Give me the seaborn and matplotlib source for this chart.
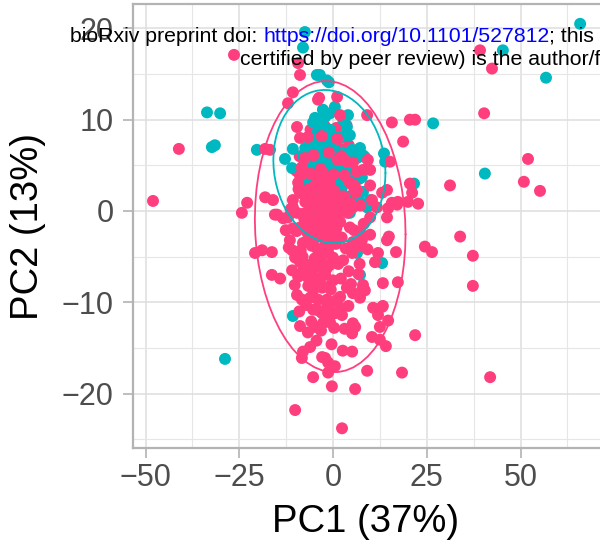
import numpy as np
import pandas as pd
import matplotlib
matplotlib.use("Agg")
import matplotlib.pyplot as plt
import seaborn as sns
from matplotlib.ticker import MultipleLocator, FixedLocator

# ---------------- data ----------------
# group 1 points that are mostly hidden below group 2 (drawn first)
pink_under_x = [-6.2, -3.9, -1.4, 1.6, 4.2, -7.1, -4.4, -1.9, 0.7, 3.3, 6.1, -5.6, -2.4, 0.5,
                2.4, 6.9, -7.4, -4.1, -0.9, 2.1, 4.9, -6.0, -2.2, 0.9, 3.6, -4.8, -1.5, 0.9,
                -3.0, 1.9, -8.9, 5.0, -5.9, -0.2, 2.8, -3.4,
                -4.5, -1.2, -6.6, -4.0, -2.1, -6.9, -1.7, -8.2, -3.9, -0.6, -5.1, 0.1, -9.8]
pink_under_y = [7.1, 6.8, 7.3, 6.9, 7.2, 5.2, 5.5, 5.0, 4.8, 5.9, 6.2, 3.4, 3.6, 3.0,
                3.3, 3.5, 1.0, 1.8, 1.9, 0.9, 1.7, 8.9, 9.3, 9.1, 9.4, 0.0, -0.9, -1.9,
                5.4, 2.0, 6.0, 4.1, 2.2, 6.1, 8.1, 7.9,
                2.9, 4.3, 3.9, 4.9, 6.6, 6.1, 2.7, 1.9, 8.5, 8.2, 8.0, 5.7, 4.4]

pink_x = [-48.0, -41.1, -26.4, -9.3, -8.8, -10.7, -12.0, -9.6, -8.8, -18.1, -16.8, -3.7, 1.1, 1.9, 9.1,
          15.7, 20.5, 21.9, 18.7, 15.2, 39.2, 42.4, 40.3, 52.0, 50.9, 55.2, 31.2, 20.5, 21.1, 22.7,
          17.3, 14.4, 14.7, 17.1, 33.9, 24.5, 26.4, 37.3, 37.3, 14.9, 14.4, 16.8, 13.3, 17.3, 13.3,
          14.7, 14.1, 21.9, 18.4, 41.9, 9.1, 5.9, 2.4, -10.1, -0.3, -5.3, -1.3, -8.3, -8.0, -6.1,
          -2.1, 0.5, -2.9, -1.3, 5.1, 5.1, 5.3, 10.4, 12.5, 10.7, 13.1, 12.0, 12.5, 8.0, 8.5,
          12.0, 11.2, 9.9, 9.9, 4.5, 7.2, 7.7, 5.3, -1.6, 1.9, 4.5, -0.8, -3.5, 0.0, -2.1,
          -3.5, 0.0, 2.7, 5.1, -2.7, 0.0, -3.5, 3.7, 5.3, 1.9, 7.2, 7.7, -1.6, 1.1, -2.1,
          0.5, 2.4, -0.8, -2.7, -22.9, -24.3, -20.8, -18.9, -16.3, -16.3, -14.1, -10.7, -11.5, -10.9, -10.1,
          -8.0, -6.1, -4.3, -1.9, -1.3, -8.8, -6.9, -4.8, -2.7, -0.8, -10.9, -9.3, -6.9, -4.8, -2.1,
          -5.3, -2.9, -1.3, -9.6, -8.3, -6.1, -4.0, -1.6, -5.3, -2.9, -1.3, -8.8, -6.7, -4.8, -1.3,
          -10.7, -9.6, -12.0, -15.5, -13.3, -8.8, -6.9, -5.3, -3.5, -18.1, -16.0, -14.9, -4.0, -6.7, -7.5,
          -8.3, -8.8, -10.7, -8.8, -6.9, -5.3, -2.9, -9.3, -7.5, -4.3, -2.7, -1.3, -5.3, -3.5, -1.6,
          9.3, 9.9, 8.0, 1.3, 3.7, 5.3, -3.5, -1.6, -0.8, 4.5, 5.3, 9.9, 6.4, 14.4, 13.1,
          20.0, 15.7, 1.1, 3.2, 5.3, 10.4, 11.7, 5.9,
          -9.2, -6.3, -3.1, 0.4, 2.8, 6.1, -11.3, -7.9, -4.6, -1.8, 1.2, 3.9, 7.3,
          -9.7, -7.1, -3.8, -0.7, 2.3, 5.6, 8.2, -8.6, -5.7, -2.6, 0.8, 3.4, 6.5,
          -7.8, -4.9, -1.7, 1.4, 4.2, 7.1, -10.2, -6.6, -3.7, -0.6, 2.1, 4.8,
          -7.2, -3.9, -0.9, 2.0, 4.1, -5.8, -3.2, 0.3, 3.1, -6.1, -3.3, 0.2, 3.1, 6.3,
          -5.2, -1.1, 2.2, -3.0, 1.1, -8.1, -11.8, -12.6, -9.0, -4.4, -0.4, 2.6, 6.8, 9.2,
          -2.2, -5.9, -1.0, 1.9, -4.1,
          -5.5, -3.2, -0.9, -6.8, -2.9, -3.6, 0.3, -2.0, -7.7, -5.0, 1.3, -0.3, -2.6, -4.7, -6.4,
          -1.8, 0.6, -2.4, -0.5, 1.5, -3.6, -1.2, 0.2]
pink_y = [1.1, 6.8, 17.1, 16.2, 14.9, 13.0, 11.8, 9.2, 8.0, 6.8, 6.7, 12.4, 12.5, 10.5, 10.5,
          9.7, 10.0, 10.0, 7.6, 5.4, 17.6, 15.6, 10.7, 5.7, 3.2, 2.2, 2.8, 3.0, 2.0, 0.8,
          1.0, -0.7, 0.3, 0.7, -2.8, -3.9, -4.5, -4.9, -8.2, -2.8, -3.2, -4.5, -7.9, -7.8, -10.4,
          -12.0, -14.8, -13.6, -17.7, -18.2, -17.5, -19.5, -23.8, -21.8, -19.2, -18.2, -17.7, -16.1, -15.4, -14.9,
          -16.1, -17.0, -16.0, -16.6, -15.4, -13.4, -12.3, -13.8, -14.1, -10.6, -10.5, -11.4, -12.7, -8.1, -8.7,
          -4.6, -5.6, -0.7, -2.6, -1.8, -2.3, -3.2, -3.4, 0.9, 0.4, 0.9, -0.8, -1.8, -2.4, -3.2,
          -4.8, -5.1, -5.4, -4.6, -6.5, -7.6, -7.6, -8.4, -9.0, -9.4, -9.5, -8.7, -9.7, -9.7, -11.1,
          -11.2, -11.4, -12.2, -12.3, 0.9, -0.2, -4.6, -4.3, -4.5, -7.0, -7.4, -1.9, -3.2, -4.3, -5.1,
          -3.5, -3.2, -4.1, -3.6, -4.6, -5.6, -5.9, -6.1, -5.7, -5.9, -6.5, -7.2, -7.2, -7.3, -7.0,
          -8.7, -8.4, -8.3, -9.2, -9.7, -9.5, -9.7, -10.1, -10.8, -11.2, -10.6, -12.6, -13.3, -12.7, -11.9,
          0.4, -0.2, -0.7, -0.4, -0.8, -1.8, -1.3, -1.0, -0.4, 1.5, 1.2, -0.4, 12.2, 8.1, 5.8,
          4.8, 3.9, 1.2, 2.0, 2.3, 2.6, 2.1, 3.1, 4.2, 3.7, 4.2, 3.4, 1.2, 0.9, 1.5,
          5.6, 4.5, 4.5, 5.6, 5.4, 5.3, 3.1, 2.8, 3.2, 3.1, 2.8, 2.8, 2.3, 2.3, 2.0,
          1.0, 0.9, 1.2, 0.4, 0.4, 1.2, 0.4, -12.7,
          2.4, 1.7, 2.6, 2.2, 1.6, 2.0, 0.2, -0.3, 0.5, -0.1, -0.6, -0.2, 0.6,
          -2.2, -1.6, -2.6, -1.5, -2.9, -2.1, -1.4, -4.3, -3.8, -4.4, -3.6, -4.1, -3.9,
          -6.4, -5.2, -6.3, -5.8, -6.6, -5.8, -8.1, -8.2, -7.9, -8.6, -7.4, -8.0,
          -10.3, -10.9, -10.2, -10.6, -10.4, -12.1, -13.1, -12.8, -12.9, 4.1, 4.6, 4.0, 3.9, 4.3,
          6.1, 6.4, 6.0, 8.2, 7.9, -5.0, -4.0, -2.1, -11.0, -14.2, -14.6, -15.3, -6.9, -4.2,
          0.8, -7.0, -3.0, -1.2, -2.0,
          0.8, -0.6, 0.3, -2.4, -1.2, 1.3, 1.1, -2.2, -0.8, -3.0, 0.0, -1.1, 0.4, -1.4, 0.1,
          0.6, -0.4, -0.9, 1.6, 1.4, -2.8, -4.0, -3.1]

teal_x = [-7.5, -8.0, 65.9, 45.3, 56.8, 26.7, 40.5, 21.6, 13.6, 13.9, 13.1, -33.6, -30.1, -32.3, -31.5,
          -28.8, -10.7, -20.3, 7.2, 5.9, 6.4, -4.3, -1.6, -1.1, -3.5, -5.3, -4.0, -2.7, -2.1, -4.3,
          -5.6, -2.9, -1.6, -4.8, -2.7, -10.7, -8.0, -12.8, -10.9, -6.7, -5.6, -2.9, -5.6, -3.5, -2.7,
          -0.8, 0.5, 2.7, 3.7, 4.0, 1.9, 3.2, 4.5, 0.0, 5.1, 7.2, 8.0, 6.4, 4.0, 7.7,
          8.0, 7.2, 10.4, -3.5, -1.3, 1.9, 4.5, 2.4, -1.6, 0.5, 5.1, -6.1, -4.3, -2.1, -1.6,
          -3.5, 3.7, 5.3, 9.1, 9.9, -4.8, -2.1, -0.8, 1.3, -0.8, -4.0, -1.6, -7.5, -4.3, 1.1,
          -6.1, -0.8, 2.7, 8.5, -4.3, 4.5,
          -5.1, -2.4, 0.6, 2.9, -6.4, -3.6, -0.3, 2.2, -5.4, -7.4, -5.2, -2.0, 0.9, 3.6, -6.0,
          -4.1, -1.0, 1.5, -6.8, -2.6,
          -3.1, -0.6, 1.8, -4.6, -1.9, 0.6, 3.0, -2.9, 0.1, 2.6, -5.8, -4.8, -3.7, -0.3,
          2.2, -1.4, 1.4, -4.9, 3.9, -2.3,
          -4.0, -1.5, 1.0, -3.3, -0.4, 1.6, -6.5, -7.9, -5.9]
teal_y = [19.6, 17.9, 20.5, 17.6, 14.6, 9.6, 4.1, 3.0, 6.3, 5.4, -5.7, 10.8, 10.7, 7.0, 7.2,
          -16.2, -11.5, 6.7, -7.0, -4.3, -4.6, 14.9, 14.3, 14.1, 14.9, 9.7, 9.6, 10.0, 8.9, 8.5,
          7.6, 7.8, 8.1, 6.7, 6.7, 6.8, 6.1, 5.7, 4.7, 5.6, 4.5, 4.5, 0.4, 0.3, 11.1,
          10.7, 11.4, 10.0, 9.2, 10.5, 8.1, 8.3, 8.3, 7.0, 6.7, 6.9, 6.1, 5.8, 6.1, 3.7,
          2.1, 1.0, 0.7, 5.3, 4.5, 4.2, 3.9, 2.6, 2.1, 1.5, 1.5, -1.3, -2.4, -1.5, 0.4,
          -0.7, 0.7, 1.0, 0.4, 1.2, 10.2, 10.3, 8.9, 8.0, 7.4, 6.7, 6.5, 4.5, 4.7, 4.7,
          3.7, 3.4, 0.4, 5.9, -0.2, -0.2,
          3.1, 3.4, 4.6, 3.8, 5.8, 4.9, 5.6, 4.6, 5.2, 6.9, 5.3, 5.6, 6.1, 5.0, 3.0,
          3.3, 2.9, 3.0, 2.6, 1.1,
          5.9, 5.2, 5.5, 4.2, 3.9, 3.6, 4.4, 6.6, 6.8, 6.4, 6.2, 2.8, 2.4, 2.5,
          2.2, 3.1, 3.3, 3.6, 4.0, 4.8,
          1.9, 1.7, 2.0, 4.5, 4.1, 4.9, 3.5, 4.3, 5.0]

group_names = ["group 1", "group 2"]
group_colors = ["#FF3F7D", "#00B8C0"]

x_ticks = [-50, -25, 0, 25, 50]
y_ticks = [-20, -10, 0, 10, 20]
x_title = "PC1 (37%)"
y_title = "PC2 (13%)"
wm_line1 = ["bioRxiv preprint doi: ", "https://doi.org/10.1101/527812", "; this"]
wm_line2 = "certified by peer review) is the author/funder"

# row order = drawing order
df = pd.concat([
    pd.DataFrame({"PC1": pink_under_x, "PC2": pink_under_y, "group": group_names[0]}),
    pd.DataFrame({"PC1": teal_x, "PC2": teal_y, "group": group_names[1]}),
    pd.DataFrame({"PC1": pink_x, "PC2": pink_y, "group": group_names[0]}),
], ignore_index=True)


def cov_trob(x, nu=5, maxit=25, tol=0.01):
    n, p = x.shape
    wt = np.ones(n)
    loc = x.mean(axis=0)
    w = np.sqrt(wt)
    for _ in range(maxit):
        w0 = w
        X = x - loc
        _, d, vt = np.linalg.svd(np.sqrt(w / w.sum())[:, None] * X, full_matrices=False)
        wX = X @ vt.T @ np.diag(1 / d)
        Q = (wX ** 2).sum(axis=1)
        w = (wt * (nu + p)) / (nu + Q)
        loc = (w[:, None] * x).sum(axis=0) / w.sum()
        if np.all(np.abs(w - w0) < tol):
            break
    cov = (np.sqrt(w)[:, None] * X).T @ (np.sqrt(w)[:, None] * X) / wt.sum()
    return loc, cov


def ellipse_path(x, level=0.95, segments=61):
    n = len(x)
    loc, cov = cov_trob(x)
    dfd = n - 1
    fq = (dfd / 2.0) * ((1 - level) ** (-2.0 / dfd) - 1)  # qf(level, 2, dfd)
    radius = np.sqrt(2 * fq)
    ang = np.linspace(0, 2 * np.pi, segments)
    circle = np.column_stack([np.cos(ang), np.sin(ang)])
    chol = np.linalg.cholesky(cov).T
    return loc + radius * circle @ chol


# ---------------- figure ----------------
sns.set_theme(style="white")
plt.rcParams["font.family"] = ["Liberation Sans", "DejaVu Sans"]

W, H = 600, 548
fig = plt.figure(figsize=(W / 100, H / 100), dpi=100)
L, R, T, B = 133, 602, 4, 448
ax = fig.add_axes([L / W, 1 - B / H, (R - L) / W, (B - T) / H])

sns.scatterplot(data=df, x="PC1", y="PC2", hue="group", palette=group_colors,
                hue_order=group_names, s=74, linewidth=0, alpha=1, legend=False,
                ax=ax, zorder=3)

for g, c in zip(group_names, group_colors):
    sub = df[df["group"] == g][["PC1", "PC2"]].to_numpy()
    e = ellipse_path(sub)
    ax.plot(e[:, 0], e[:, 1], color=c, lw=1.3, zorder=4)

x0, px_per_x = 333, 3.75
y0, px_per_y = 211, 9.13
ax.set_xlim((L - x0) / px_per_x, (R - x0) / px_per_x)
ax.set_ylim((y0 - B) / px_per_y, (y0 - T) / px_per_y)

ax.xaxis.set_major_locator(FixedLocator(x_ticks))
ax.yaxis.set_major_locator(FixedLocator(y_ticks))
ax.xaxis.set_minor_locator(MultipleLocator(12.5))
ax.yaxis.set_minor_locator(MultipleLocator(5))
ax.set_xticklabels([str(v).replace("-", "\u2212") for v in x_ticks])
ax.set_yticklabels([str(v).replace("-", "\u2212") for v in y_ticks])

ax.grid(which="major", color="#DEDEDE", lw=1.1)
ax.grid(which="minor", color="#E6E6E6", lw=0.8)
ax.set_axisbelow(True)
for s in ax.spines.values():
    s.set_color("#B3B3B3")
    s.set_linewidth(1.6)
ax.tick_params(which="major", direction="out", length=7, width=1.2, color="#B3B3B3",
               labelsize=22, labelcolor="#4D4D4D", bottom=True, left=True)
ax.tick_params(axis="x", which="major", pad=4)
ax.tick_params(axis="y", which="major", pad=7)
ax.tick_params(which="minor", length=0)

ax.set_xlabel(x_title, fontsize=27.5, color="black")
ax.set_ylabel(y_title, fontsize=27.5, color="black")
ax.xaxis.label.set_va("center")
ax.xaxis.set_label_coords((366 - L) / (R - L), (B - 522) / (B - T))
ax.yaxis.label.set_va("center")
ax.yaxis.label.set_ha("center")
ax.yaxis.set_label_coords((28 - L) / (R - L), (B - 226) / (B - T))

# watermark text (drawn over the panel)
fs_wm = 15.3
fig.canvas.draw()
renderer = fig.canvas.get_renderer()
xpos = 70
colors_l1 = ["black", "blue", "black"]
for piece, col in zip(wm_line1, colors_l1):
    t = fig.text(xpos / W, 1 - 42 / H, piece, fontsize=fs_wm, color=col,
                 va="baseline", ha="left", zorder=10)
    bb = t.get_window_extent(renderer)
    xpos = bb.x1
fig.text(240 / W, 1 - 65 / H, wm_line2, fontsize=fs_wm, color="black",
         va="baseline", ha="left", zorder=10)

fig.savefig("out.png", dpi=100)
